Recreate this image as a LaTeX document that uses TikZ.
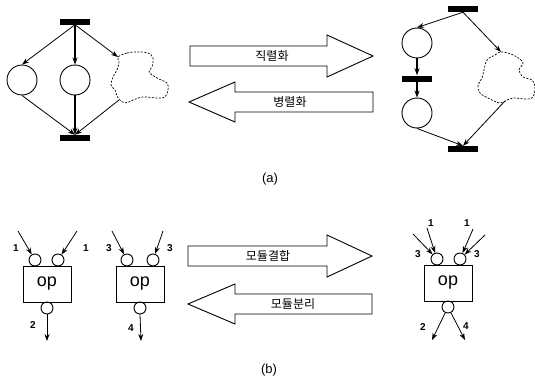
\documentclass[tikz,border=0pt]{standalone}
\usepackage{fontspec}
\setmainfont{Liberation Sans}
\newfontfamily\kr{Noto Sans CJK KR}
\usetikzlibrary{arrows.meta}
\begin{document}
\begin{tikzpicture}[x=1pt,y=-1pt,
  place/.style={circle,draw,minimum size=30pt,inner sep=0pt,line width=0.9pt},
  bar/.style={rectangle,fill=black,minimum width=30pt,minimum height=6pt,inner sep=0pt},
  port/.style={circle,draw,minimum size=12pt,inner sep=0pt,line width=0.9pt},
  opbox/.style={rectangle,draw,minimum width=48pt,minimum height=36pt,inner sep=0pt,line width=0.9pt,font=\fontsize{18}{18}\selectfont},
  arc/.style={-{Stealth[length=7pt,width=5pt]},line width=0.8pt},
  thickarc/.style={arc,line width=1.5pt},
  cloudline/.style={dash pattern=on 2pt off 1.5pt,line width=0.7pt},
  bigarrow/.style={draw,line width=0.9pt},
  num/.style={font=\bfseries\fontsize{10}{10}\selectfont,inner sep=0pt},
  lbl/.style={font=\kr\fontsize{12}{12}\selectfont,inner sep=0pt},
  capt/.style={font=\fontsize{13}{13}\selectfont,inner sep=0pt}
]
\useasboundingbox (0,0) rectangle (535,383);

% ---------- (a) left net ----------
\node[bar] (t1) at (75,21.5) {};
\node[place] (p1) at (22,80) {};
\node[place] (p2) at (75,80) {};
\node[bar] (b1) at (75,138) {};
\draw[cloudline] plot[smooth cycle,tension=0.6] coordinates {(118,57) (127,53) (137,52) (148,53) (153,58) (152,67) (149,72) (157,78) (167,83) (168,90) (165,97) (157,98) (143,97) (133,100) (125,103) (118,98) (115,90) (111,85) (113,77) (117,70) (119,62)};
\coordinate (c1in) at (118,57);
\coordinate (c1out) at (119,100);
\draw[arc] (t1.south) -- (p1.north);
\draw[arc,line width=1.2pt] (t1.south) -- (p2.north);
\draw[arc] (t1.south) -- (c1in);
\draw[arc] (p1.south) -- (b1.north);
\draw[arc,line width=1.2pt] (p2.south) -- (b1.north);
\draw[arc] (c1out) -- (b1.north);

% ---------- (a) block arrows ----------
\draw[bigarrow] (190,46) -- (327,46) -- (327,35) -- (373,56) -- (327,77) -- (327,66) -- (190,66) -- cycle;
\node[lbl] (ser) at (272,56) {직렬화};
\draw[bigarrow] (373,92) -- (235,92) -- (235,82) -- (189,102) -- (235,122) -- (235,112) -- (373,112) -- cycle;
\node[lbl] (par) at (290,102) {병렬화};

% ---------- (a) right net ----------
\node[bar] (t2) at (463,9) {};
\node[place] (p3) at (417,43) {};
\node[bar] (m2) at (417,78.5) {};
\node[place] (p4) at (417,113) {};
\node[bar] (b2) at (463,149) {};
\draw[cloudline] plot[smooth cycle,tension=0.6] coordinates {(500,52) (508,53) (517,57) (523,63) (519,70) (523,77) (532,80) (535,87) (533,97) (527,99) (513,98) (507,100) (500,103) (490,99) (480,93) (478,85) (482,78) (484,70) (487,60) (495,55)};
\coordinate (c2in) at (501,52);
\coordinate (c2out) at (505,101);
\draw[arc] (t2.south) -- (p3.north);
\draw[arc] (t2.south) -- (c2in);
\draw[thickarc] (p3.south) -- (m2.north);
\draw[thickarc] (m2.south) -- (p4.north);
\draw[arc] (p4.south) -- (b2.north);
\draw[arc] (c2out) -- (b2.north);

\node[capt] (capa) at (270,179) {(a)};

% ---------- (b) left modules ----------
\node[opbox] (op1) at (47,284) {op};
\node[port] (i11) at (35,260) {};
\node[port] (i12) at (58,260) {};
\node[port] (o1) at (47,308) {};
\coordinate (s11) at (18,231);
\coordinate (s12) at (77,231);
\coordinate (e1) at (47,341);
\draw[arc] (s11) -- (i11);
\draw[arc] (s12) -- (i12);
\draw[arc] (o1.south) -- (e1);
\node[num] (n11) at (16,248) {1};
\node[num] (n12) at (86,248) {1};
\node[num] (n13) at (33,325) {2};

\node[opbox] (op2) at (140,284) {op};
\node[port] (i21) at (127,260) {};
\node[port] (i22) at (153,260) {};
\node[port] (o2) at (140,308) {};
\coordinate (s21) at (112,231);
\coordinate (s22) at (163,231);
\coordinate (e2) at (141,341);
\draw[arc] (s21) -- (i21);
\draw[arc] (s22) -- (i22);
\draw[arc] (o2.south) -- (e2);
\node[num] (n21) at (109,248) {3};
\node[num] (n22) at (170,248) {3};
\node[num] (n23) at (131,328) {4};

% ---------- (b) block arrows ----------
\draw[bigarrow] (188,246) -- (327,246) -- (327,235) -- (372,256) -- (327,277) -- (327,266) -- (188,266) -- cycle;
\node[lbl] (mer) at (268,256) {모듈결합};
\draw[bigarrow] (372,294) -- (235,294) -- (235,284) -- (188,304) -- (235,324) -- (235,314) -- (372,314) -- cycle;
\node[lbl] (spl) at (293,304) {모듈분리};

% ---------- (b) right module ----------
\node[opbox] (op3) at (448,283) {op};
\node[port] (i31) at (437,259) {};
\node[port] (i32) at (460,259) {};
\node[port] (o3) at (448,307) {};
\coordinate (s31a) at (427,228);
\coordinate (s31b) at (413,234);
\coordinate (s32a) at (473,229);
\coordinate (s32b) at (485,235);
\coordinate (e31) at (432,340);
\coordinate (e32) at (465,340);
\draw[arc] (s31a) -- (i31);
\draw[arc] (s31b) -- (i31);
\draw[arc] (s32a) -- (i32);
\draw[arc] (s32b) -- (i32);
\draw[arc] (o3) -- (e31);
\draw[arc] (o3) -- (e32);
\node[num] (n31) at (431,223) {1};
\node[num] (n32) at (467,223) {1};
\node[num] (n33) at (418,254) {3};
\node[num] (n34) at (477,254) {3};
\node[num] (n35) at (423,327) {2};
\node[num] (n36) at (466,326) {4};

\node[capt] (capb) at (269,370) {(b)};
\end{tikzpicture}
\end{document}
